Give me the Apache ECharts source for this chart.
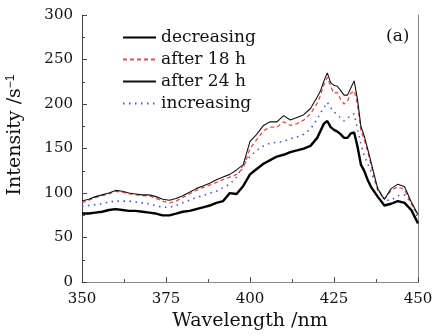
<!DOCTYPE html>
<html><head><meta charset="utf-8">
<script src="https://cdn.jsdelivr.net/npm/echarts@6/dist/echarts.min.js"></script>
<style>html,body{margin:0;padding:0;background:#fff}#c{width:436px;height:336px}</style>
</head><body><div id="c"></div>
<script>
var wavelength = [350,352,354,356,358,360,362,364,366,368,370,372,374,376,378,380,382,384,386,388,390,392,394,396,398,400,402,404,406,408,410,412,414,416,418,420,421,422,423,424,425,426,427,428,429,430,431,432,433,434,435,436,438,440,442,444,446,448,450];
var decreasing = [77,77,78,79,81,82,81,80,80,79,78,77,75,75,77,79,80,82,84,86,89,91,100,99,108,121,127,133,137,141,143,146,148,150,153,162,170,178,181,174,171,169,166,162,162,167,168,152,132,125,115,107,96,86,88,91,89,81,66];
var after18h = [89,92,95,97,99,102,101,99,98,97,97,94,91,89,91,95,99,103,106,109,112,115,118,121,128,150,160,170,174,174,180,176,178,182,189,201,210,222,230,220,212,213,205,200,203,212,215,200,170,160,147,132,103,93,103,107,104,88,75];
var after24h = [91,93,96,98,100,103,102,100,99,98,98,96,93,92,94,97,101,105,108,111,115,118,121,126,132,158,166,176,180,180,187,182,185,188,195,208,215,226,235,224,221,220,215,210,210,218,226,205,175,164,150,135,105,93,105,110,107,90,76];
var increasing = [85,86,87,88,90,91,91,91,90,89,88,86,84,84,86,89,92,95,97,100,102,106,110,118,132,141,148,153,156,157,158,161,163,166,172,183,190,196,202,196,191,188,184,181,184,187,189,172,155,142,133,124,106,92,92,97,98,89,72];
var xTicks = [350,375,400,425,450];
var yTicks = [0,50,100,150,200,250,300];

function pairs(v){ return wavelength.map(function(w,i){ return [w, v[i]]; }); }
var FONT = 'DejaVu Serif';
var chart = echarts.init(document.getElementById('c'), null, {renderer:'canvas'});
chart.setOption({
  backgroundColor:'#fff',
  animation:false,
  grid:{left:82,right:18,top:15,bottom:51,containLabel:false},
  legend:{
    orient:'vertical', left:117, top:24, itemWidth:33, itemHeight:16, itemGap:5,
    itemStyle:{opacity:0},
    textStyle:{fontFamily:FONT,fontSize:17,color:'#111',lineHeight:16},
    data:['decreasing','after 18 h','after 24 h','increasing']
  },
  xAxis:[{
    type:'value', min:xTicks[0], max:xTicks[xTicks.length-1], interval:25,
    name:'Wavelength /nm', nameLocation:'middle', nameGap:26,
    nameTextStyle:{fontFamily:FONT,fontSize:19,color:'#111'},
    axisLine:{lineStyle:{color:'#444',width:1}},
    axisTick:{inside:true,length:5,lineStyle:{color:'#444'}},
    minorTick:{show:true,splitNumber:2,length:3,lineStyle:{color:'#444'}},
    axisLabel:{fontFamily:FONT,fontSize:15,color:'#111',margin:10},
    splitLine:{show:false}
  },{
    type:'value', position:'top', min:350, max:450,
    axisLine:{show:true,lineStyle:{color:'#888'}},
    axisTick:{show:false}, axisLabel:{show:false}, splitLine:{show:false}
  }],
  yAxis:[{
    type:'value', min:yTicks[0], max:yTicks[yTicks.length-1], interval:50,
    axisLine:{show:true,lineStyle:{color:'#444',width:1}},
    axisTick:{show:true,inside:true,length:5,lineStyle:{color:'#444'}},
    minorTick:{show:true,splitNumber:2,length:3,lineStyle:{color:'#444'}},
    axisLabel:{fontFamily:FONT,fontSize:15,color:'#111',margin:9},
    splitLine:{show:false}
  },{
    type:'value', position:'right', min:0, max:300,
    axisLine:{show:true,lineStyle:{color:'#888'}},
    axisTick:{show:false}, axisLabel:{show:false}, splitLine:{show:false}
  }],
  graphic:[
    {type:'text', left:386, top:28, style:{text:'(a)', font:'17px "DejaVu Serif"', fill:'#111'}},
    {type:'text', x:15, y:135, rotation:Math.PI/2, style:{
      text:'Intensity /s{sup|−1}', rich:{sup:{fontSize:12, verticalAlign:'top', padding:[0,0,9,0]}},
      font:'19px "DejaVu Serif"', fill:'#111', align:'center', verticalAlign:'middle'}}
  ],
  series:[
    {name:'increasing', type:'line', data:pairs(increasing), symbol:'none',
     itemStyle:{color:'#4456c8'},
     lineStyle:{color:'#4456c8', width:1.6, type:[1.5,4.5]}, z:2},
    {name:'after 18 h', type:'line', data:pairs(after18h), symbol:'none',
     itemStyle:{color:'#e84a4a'},
     lineStyle:{color:'#e84a4a', width:1.3, type:[4,3]}, z:3},
    {name:'after 24 h', type:'line', data:pairs(after24h), symbol:'none',
     itemStyle:{color:'#111'},
     lineStyle:{color:'#111', width:1.1}, z:4},
    {name:'decreasing', type:'line', data:pairs(decreasing), symbol:'none',
     itemStyle:{color:'#000'},
     lineStyle:{color:'#000', width:2.4}, z:5}
  ]
});
</script></body></html>
